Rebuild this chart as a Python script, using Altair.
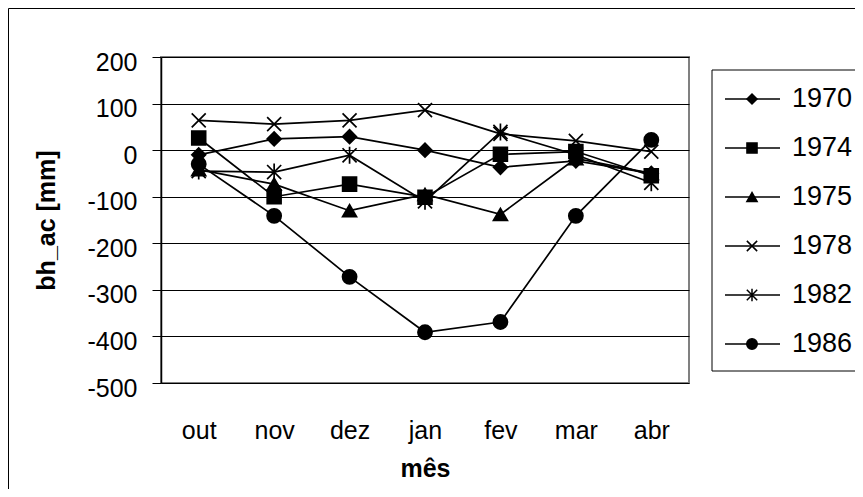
import altair as alt
import pandas as pd

months = ["out", "nov", "dez", "jan", "fev", "mar", "abr"]
years = ["1970", "1974", "1975", "1978", "1982", "1986"]

v1970 = [-10, 24, 29, 0, -37, -23, -50]
v1974 = [26, -100, -73, -101, -9, -3, -55]
v1975 = [-42, -73, -130, -95, -138, -18, -50]
v1978 = [64, 56, 64, 86, 35, 20, -3]
v1982 = [-45, -47, -11, -110, 39, -10, -70]
v1986 = [-30, -141, -272, -391, -369, -141, 22]

series = [v1970, v1974, v1975, v1978, v1982, v1986]

X_PATH = "M-1,-1L1,1M-1,1L1,-1"
AST_PATH = "M-1,-1L1,1M-1,1L1,-1M0,-1.2L0,1.2"
shapes = ["diamond", "square", "triangle-up", X_PATH, AST_PATH, "circle"]
sizes = [190, 200, 200, 360, 250, 210]
leg_sizes = [100, 110, 110, 230, 160, 120]

rows = []
for yr, vals in zip(years, series):
    for i, (m, v) in enumerate(zip(months, vals)):
        rows.append({"month": m, "idx": i, "year": yr, "value": v})
df = pd.DataFrame(rows)
leg = pd.DataFrame({"year": years})

FONT = "Liberation Sans"

x_enc = alt.X("month:N", sort=months, scale=alt.Scale(type="point", padding=0.5),
              axis=alt.Axis(title="mês", labelAngle=0, ticks=False, domain=False, grid=False,
                            labelFontSize=25, labelPadding=35, titleFontSize=25,
                            titleFontWeight="bold", titlePadding=13))
y_enc = alt.Y("value:Q", scale=alt.Scale(domain=[-500, 200], nice=False, zero=False),
              axis=alt.Axis(title="bh_ac [mm]", values=list(range(-500, 201, 100)),
                            labelExpr="replace(datum.label, '\u2212', '-')",
                            tickSize=9, tickColor="black", domainColor="black", domainWidth=1.5,
                            gridColor="black", gridWidth=1, labelFontSize=25, labelPadding=15,
                            labelOffset=5, titleFontSize=25, titleFontWeight="bold",
                            titlePadding=27))

shape_scale = alt.Scale(domain=years, range=shapes)

lines = alt.Chart(df).mark_line(color="black", strokeWidth=1.7).encode(
    x=x_enc, y=y_enc, detail="year:N", order=alt.Order("idx:Q")
)

points = alt.Chart(df).mark_point(filled=True, fill="black", stroke="black",
                                  strokeWidth=1.7, opacity=1).encode(
    x=alt.X("month:N", sort=months), y="value:Q",
    shape=alt.Shape("year:N", scale=shape_scale, legend=None),
    size=alt.Size("year:N", scale=alt.Scale(domain=years, range=sizes), legend=None),
)

main = alt.layer(lines, points)

leg_y = alt.Y("year:N", scale=alt.Scale(type="point", domain=years, range=[42, 287], padding=0),
              axis=None)

leg_box = alt.Chart(leg).mark_rect(fill="white", stroke="black", strokeWidth=1).encode(
    x=alt.value(551), x2=alt.value(720), y=alt.value(13), y2=alt.value(314)
).transform_filter("datum.year == '1970'")

leg_rule = alt.Chart(leg).mark_rule(color="black", strokeWidth=1.7).encode(
    x=alt.value(564), x2=alt.value(619), y=leg_y)

leg_pts = alt.Chart(leg).mark_point(filled=True, fill="black", stroke="black",
                                    strokeWidth=1.5, opacity=1).encode(
    x=alt.value(591), y=leg_y,
    shape=alt.Shape("year:N", scale=shape_scale, legend=None),
    size=alt.Size("year:N", scale=alt.Scale(domain=years, range=leg_sizes), legend=None),
)

leg_txt = alt.Chart(leg).mark_text(align="left", baseline="middle", fontSize=27,
                                   font=FONT, color="black").encode(
    x=alt.value(631), y=leg_y, text="year:N")

legend = alt.layer(leg_box, leg_rule, leg_pts, leg_txt)

frame = alt.Chart(leg).mark_rect(fill=None, stroke="black", strokeWidth=1).encode(
    x=alt.value(-152.5), x2=alt.value(720), y=alt.value(-48.5), y2=alt.value(480)
).transform_filter("datum.year == '1970'")

chart = alt.layer(frame, main, legend).resolve_scale(
    y="independent", size="independent"
).properties(
    width=528, height=326,
    autosize=alt.AutoSizeParams(type="none"),
    padding={"left": 153, "top": 49, "right": 166, "bottom": 106},
).configure(font=FONT).configure_axis(
    labelFont=FONT, titleFont=FONT, labelColor="black", titleColor="black"
).configure_view(stroke="#808080", strokeWidth=2)

chart.save("out.html", embed_options={"renderer": "svg", "actions": False})
